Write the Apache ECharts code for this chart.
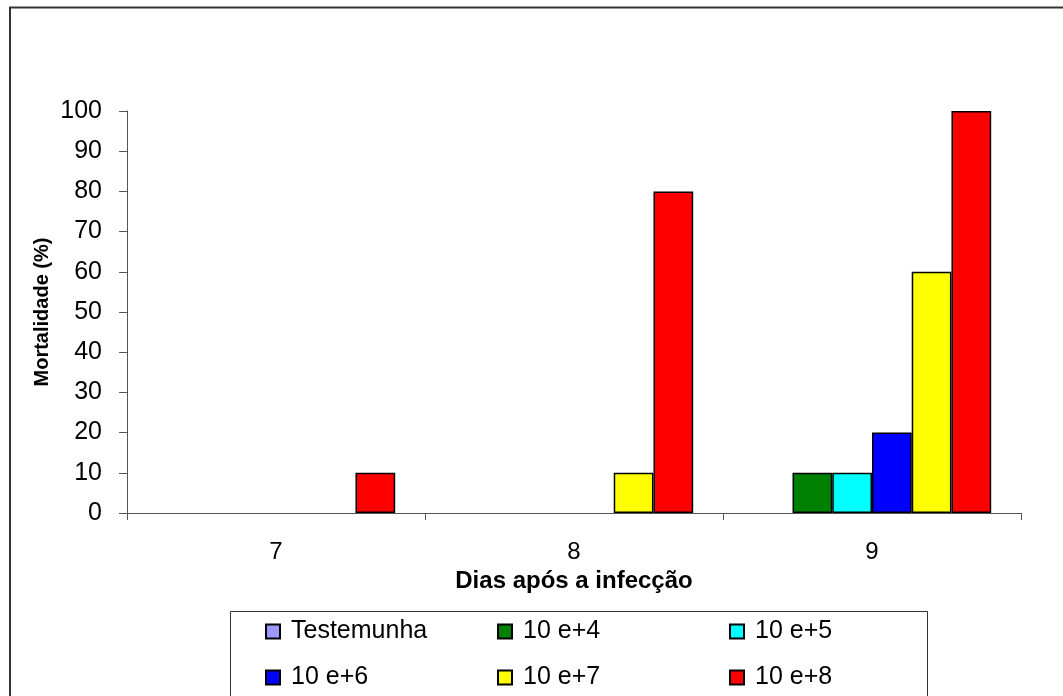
<!DOCTYPE html>
<html>
<head>
<meta charset="utf-8">
<script src="https://cdn.jsdelivr.net/npm/echarts@6/dist/echarts.min.js"></script>
<style>html,body{margin:0;padding:0;background:#fff}#c{width:1063px;height:696px}</style>
</head>
<body>
<div id="c"></div>
<script>
const categories = ['7', '8', '9'];
const seriesNames = ['Testemunha', '10 e+4', '10 e+5', '10 e+6', '10 e+7', '10 e+8'];
const testemunha = [0, 0, 0];
const e4 = [0, 0, 10];
const e5 = [0, 0, 10];
const e6 = [0, 0, 20];
const e7 = [0, 10, 60];
const e8 = [10, 80, 100];
const colors = ['#9999FF', '#008000', '#00FFFF', '#0000FF', '#FFFF00', '#FF0000'];
const seriesData = [testemunha, e4, e5, e6, e7, e8];

const FONT = '"Liberation Sans", Arial, sans-serif';
const chart = echarts.init(document.getElementById('c'), null, {renderer: 'canvas'});
chart.setOption({
  animation: false,
  backgroundColor: '#fff',
  grid: {left: 127, right: 42, top: 111, bottom: 183, containLabel: false},
  xAxis: {
    type: 'category',
    data: categories,
    boundaryGap: true,
    name: 'Dias após a infecção',
    nameLocation: 'middle',
    nameGap: 56,
    nameMoveOverlap: false,
    nameTextStyle: {fontFamily: FONT, fontSize: 24, fontWeight: 'bold', color: '#000'},
    axisLine: {lineStyle: {color: '#555', width: 1}},
    axisTick: {show: true, length: 7, inside: false, lineStyle: {color: '#555'}},
    axisLabel: {fontFamily: FONT, fontSize: 24, color: '#000', margin: 27},
    splitLine: {show: false}
  },
  yAxis: {
    type: 'value',
    min: 0, max: 100, interval: 10,
    name: 'Mortalidade (%)',
    nameLocation: 'middle',
    nameGap: 75,
    nameMoveOverlap: false,
    nameTextStyle: {fontFamily: FONT, fontSize: 20, fontWeight: 'bold', color: '#000'},
    axisLine: {show: true, lineStyle: {color: '#555', width: 1}},
    axisTick: {show: true, length: 8, lineStyle: {color: '#555'}},
    axisLabel: {fontFamily: FONT, fontSize: 25, color: '#000', margin: 25},
    splitLine: {show: false}
  },
  legend: {
    left: 265, top: 619, width: 700,
    orient: 'horizontal',
    padding: 0,
    itemWidth: 14, itemHeight: 14,
    itemGap: 21,
    icon: 'rect',
    data: seriesNames,
    textStyle: {fontFamily: FONT, fontSize: 25, color: '#000', width: 185, lineHeight: 24, padding: [0, 0, 0, 6]}
  },
  graphic: [
    {type: 'rect', shape: {x: 10, y: 7.5, width: 1100, height: 800}, style: {fill: 'none', stroke: '#333', lineWidth: 2}, silent: true, z: -10},
    {type: 'rect', shape: {x: 230.5, y: 611.5, width: 697, height: 200}, style: {fill: 'none', stroke: '#333', lineWidth: 1}, silent: true, z: -10}
  ],
  series: seriesNames.map((n, i) => ({
    name: n,
    type: 'bar',
    data: seriesData[i].map(v => (v === 0 ? '-' : v)),
    barGap: '0%',
    barCategoryGap: '20%',
    itemStyle: {color: colors[i], borderColor: '#000', borderWidth: 1.5}
  }))
});
</script>
</body>
</html>
